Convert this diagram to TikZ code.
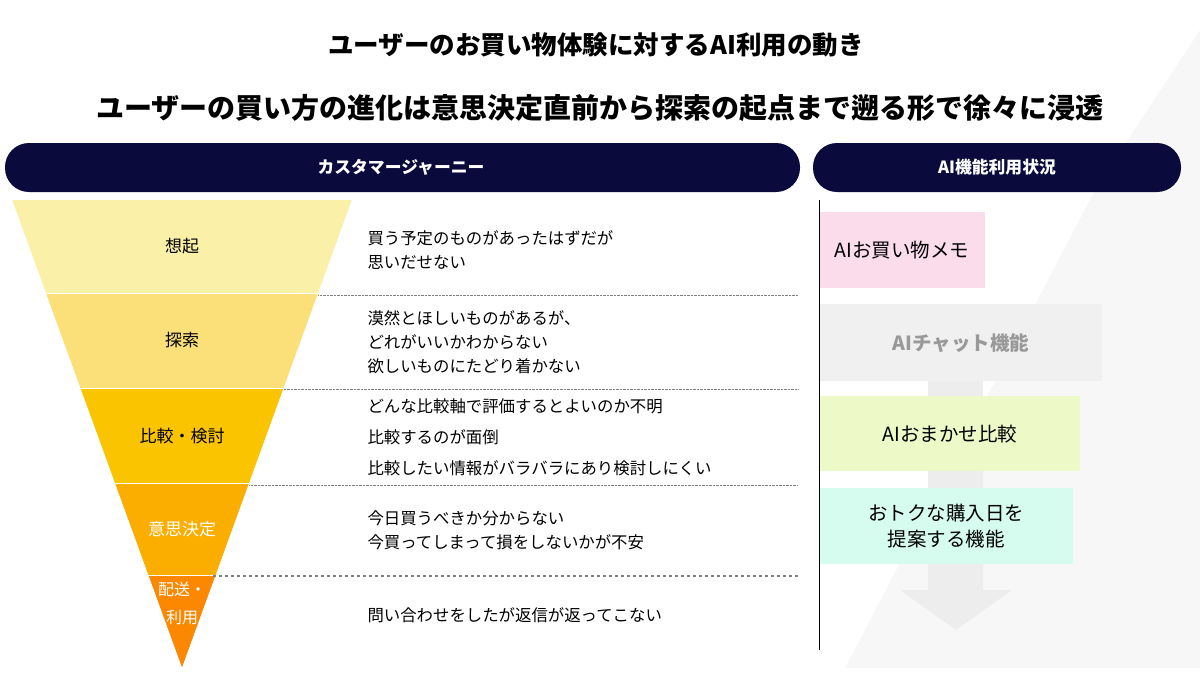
\documentclass[tikz,border=0pt]{standalone}
\usepackage{fontspec}
\setmainfont{Noto Sans CJK JP}
\definecolor{headnavy}{RGB}{10,10,60}
\definecolor{stepA}{RGB}{251,240,168}
\definecolor{stepB}{RGB}{251,224,122}
\definecolor{stepC}{RGB}{251,196,0}
\definecolor{stepD}{RGB}{251,174,0}
\definecolor{stepE}{RGB}{251,136,0}
\definecolor{memopink}{RGB}{250,220,235}
\definecolor{chatgray}{RGB}{240,240,240}
\definecolor{cmpgreen}{RGB}{238,249,200}
\definecolor{daymint}{RGB}{214,251,239}
\usetikzlibrary{positioning}

\begin{document}
\begin{tikzpicture}[x=1pt, y=-1pt,
  stage/.style={font=\fontsize{17}{20}\selectfont, align=center},
  pain/.style={font=\fontsize{16.4}{24}\selectfont, anchor=west, align=left},
  feat/.style={font=\fontsize{19.5}{26}\selectfont, align=center, inner sep=0pt},
  sep/.style={gray, densely dotted}]
  \useasboundingbox (0,0) rectangle (1200,675);
  % background
  \fill[black!3] (1200,30) -- (1200,668) -- (845,668) -- (1095,190) -- cycle;

  % titles
  \node[font=\fontsize{25.5}{28}\selectfont\bfseries] (title) at (596,45) {ユーザーのお買い物体験に対するAI利用の動き};
  \node[font=\fontsize{28}{32}\selectfont\bfseries] (subtitle) at (600,108) {ユーザーの買い方の進化は意思決定直前から探索の起点まで遡る形で徐々に浸透};

  % headers
  \fill[headnavy, rounded corners=24pt] (5,143) rectangle (800,192);
  \node[text=white, font=\fontsize{16.8}{18}\selectfont\bfseries] (journey) at (401,167) {カスタマージャーニー};
  \fill[headnavy, rounded corners=24pt] (813,143) rectangle (1181,192);
  \node[text=white, font=\fontsize{16.8}{18}\selectfont\bfseries] (aihead) at (997,167) {AI機能利用状況};

  % funnel
  \fill[stepA] (12,200) -- (352,200) -- (318.3,293) -- (45.7,293) -- cycle;
  \fill[stepB] (45.7,293) -- (318.3,293) -- (283.8,388) -- (80.2,388) -- cycle;
  \fill[stepC] (80.2,388) -- (283.8,388) -- (249.3,483) -- (114.7,483) -- cycle;
  \fill[stepD] (114.7,483) -- (249.3,483) -- (215.8,575) -- (148.2,575) -- cycle;
  \fill[stepE] (148.2,575) -- (215.8,575) -- (182,668) -- cycle;
  \foreach \yy in {293,388,483,575}
    \draw[white, thick] (12,\yy) -- (352,\yy);
  \fill[white] (12,200) -- (182,668) -- (0,668) -- (0,200) -- cycle;
  \fill[white] (352,200) -- (182,668) -- (360,668) -- (360,200) -- cycle;
  \node[stage] (s1) at (182,246) {想起};
  \node[stage] (s2) at (182,340) {探索};
  \node[stage] (s3) at (182,436) {比較・検討};
  \node[stage, text=white] (s4) at (182,529) {意思決定};
  \node[stage, text=white, font=\fontsize{16}{28}\selectfont] (s5) at (182,603) {配送・\\利用};

  % separators
  \draw[sep] (318.3,295) -- (798,295);
  \draw[sep] (283.8,389) -- (798,389);
  \draw[sep] (249.3,485) -- (798,485);
  \draw[gray, very thick, dashed] (213,576) -- (800,576);

  % pains
  \node[pain] (p1) at (364,250) {買う予定のものがあったはずだが\\思いだせない};
  \node[pain] (p2) at (364,342) {漠然とほしいものがあるが、\\どれがいいかわからない\\欲しいものにたどり着かない};
  \node[pain, font=\fontsize{16.4}{31}\selectfont] (p3) at (364,437) {どんな比較軸で評価するとよいのか不明\\比較するのが面倒\\比較したい情報がバラバラにあり検討しにくい};
  \node[pain] (p4) at (364,530) {今日買うべきか分からない\\今買ってしまって損をしないかが不安};
  \node[pain] (p5) at (364,615) {問い合わせをしたが返信が返ってこない};

  % AI column
  \draw (819,200) -- (819,650);
  \fill[black!7] (928,380) rectangle (983,590) (900,590) -- (1012,590) -- (956,630) -- cycle;
  \fill[memopink] (820,212) rectangle (985,288);
  \node[feat] (f1) at (902,250) {AIお買い物メモ};
  \fill[chatgray] (820,304) rectangle (1102,381);
  \node[feat, text=black!40, font=\fontsize{19.5}{26}\selectfont\bfseries] (f2) at (961,343) {AIチャット機能};
  \fill[cmpgreen] (820,396) rectangle (1080,471);
  \node[feat] (f3) at (950,434) {AIおまかせ比較};
  \fill[daymint] (820,488) rectangle (1073,564);
  \node[feat] (f4) at (946,526) {おトクな購入日を\\提案する機能};
\end{tikzpicture}
\end{document}
